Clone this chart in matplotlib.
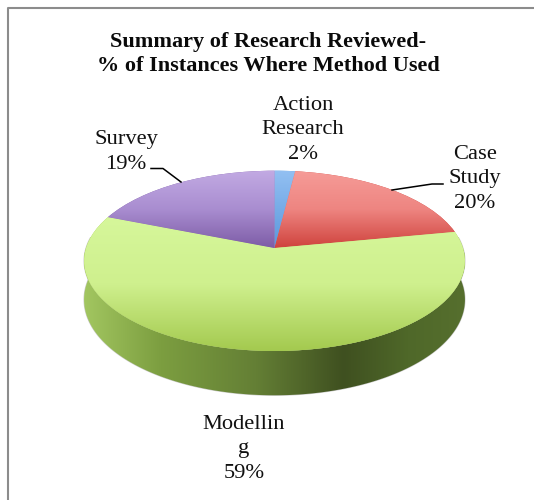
import numpy as np
import matplotlib
matplotlib.use("Agg")
import matplotlib.pyplot as plt
from matplotlib.colors import LinearSegmentedColormap
from matplotlib.patches import Polygon
from matplotlib.transforms import Transform

# ---- data ----
categories = ["Action\nResearch", "Case\nStudy", "Modellin\ng", "Survey"]
values = [2, 20, 59, 19]
percent_labels = ["2%", "20%", "59%", "19%"]
title = "Summary of Research Reviewed-\n% of Instances Where Method Used"

# ---- style ----
face_gradients = [
    ["#93c0f2", "#5b97dc"],
    ["#f69c98", "#ee8581", "#cf433d"],
    ["#d6f79b", "#cff08e", "#a3c94e"],
    ["#c2aae3", "#a98dd0", "#7d5ca6"],
]
face_spans = [(170, 248), (170, 248), (215, 352), (170, 248)]
side_stops = [(0.0, "#a2c660"), (0.2, "#7c9e40"), (0.45, "#647f35"), (0.68, "#3f5020"),
              (0.85, "#4f6829"), (1.0, "#566f2e")]
CX, CY, RX, RY, K, DEPTH = 274.5, 248.0, 188.5, 88.3, 0.1425, 38.0


class Perspective(Transform):
    """Unit-circle pie plane -> tilted pie on the page."""
    input_dims = output_dims = 2
    is_separable = False
    has_inverse = False

    def transform_non_affine(self, xy):
        xy = np.asarray(xy, dtype=float)
        w = 1 + K * xy[:, 1]
        return np.column_stack((CX + RX * xy[:, 0] / w, CY - RY * xy[:, 1] / w))


fig = plt.figure(figsize=(5.34, 5.0), dpi=100)
ax = fig.add_axes([0, 0, 1, 1])
plt.rcParams["font.family"] = ["Liberation Serif", "DejaVu Serif"]

wedges, _ = ax.pie(values, startangle=90, counterclock=False, radius=1, center=(0, 0))
proj = Perspective()
for w, cols in zip(wedges, face_gradients):
    w.set_transform(proj + ax.transData)
    w.set_facecolor(cols[-1])
    w.set_edgecolor("none")
    w.set_zorder(3)

# visible rim of the pie
theta = np.radians(np.linspace(83, 277, 300))
rim = proj.transform_non_affine(np.column_stack((np.sin(theta), np.cos(theta))))
drop = DEPTH / (1 + K * np.cos(theta))
lower = rim + np.column_stack((np.zeros_like(drop), drop))
side = Polygon(np.vstack((rim, lower[::-1])), closed=True, facecolor="none",
               edgecolor="#9a9a9a", linewidth=0.8, alpha=0.5, zorder=1)
ax.add_patch(side)
side_img = ax.imshow(np.linspace(0, 1, 256)[:, None].T, aspect="auto", zorder=2,
                     cmap=LinearSegmentedColormap.from_list("side", side_stops),
                     extent=(84, 466, 400, 250))
side_img.set_clip_path(side)

for w, cols, (y0, y1) in zip(wedges, face_gradients, face_spans):
    img = ax.imshow(np.linspace(0, 1, 256)[:, None], aspect="auto", origin="upper", zorder=4,
                    cmap=LinearSegmentedColormap.from_list("f", cols),
                    extent=(80, 470, y1, y0))
    img.set_clip_path(w)

# frame (left and top only are visible)
ax.plot([7.5, 7.5, 534], [500, 7.5, 7.5], color="#8c8c8c", lw=1.5, zorder=5)

# leader lines
ax.plot([151, 163, 181], [168.5, 168.5, 182], color="black", lw=1.1, zorder=6)
ax.plot([392, 432, 443], [190, 184, 184], color="black", lw=1.1, zorder=6)

ax.text(268.5, 54, title, ha="center", va="center", fontsize=16, fontweight="bold",
        color="#0a0a0a", linespacing=1.3)

label_pos = [(303, 130), (475, 179), (244, 449), (126, 152)]
for cat, pct, (x, y) in zip(categories, percent_labels, label_pos):
    ax.text(x, y, f"{cat}\n{pct}", ha="center", va="center", fontsize=16.2,
            color="#111111", linespacing=1.38, zorder=7)

ax.set_aspect("auto")
ax.set_xlim(0, 534)
ax.set_ylim(500, 0)
ax.axis("off")
fig.savefig("out.png", dpi=100, facecolor="white")
